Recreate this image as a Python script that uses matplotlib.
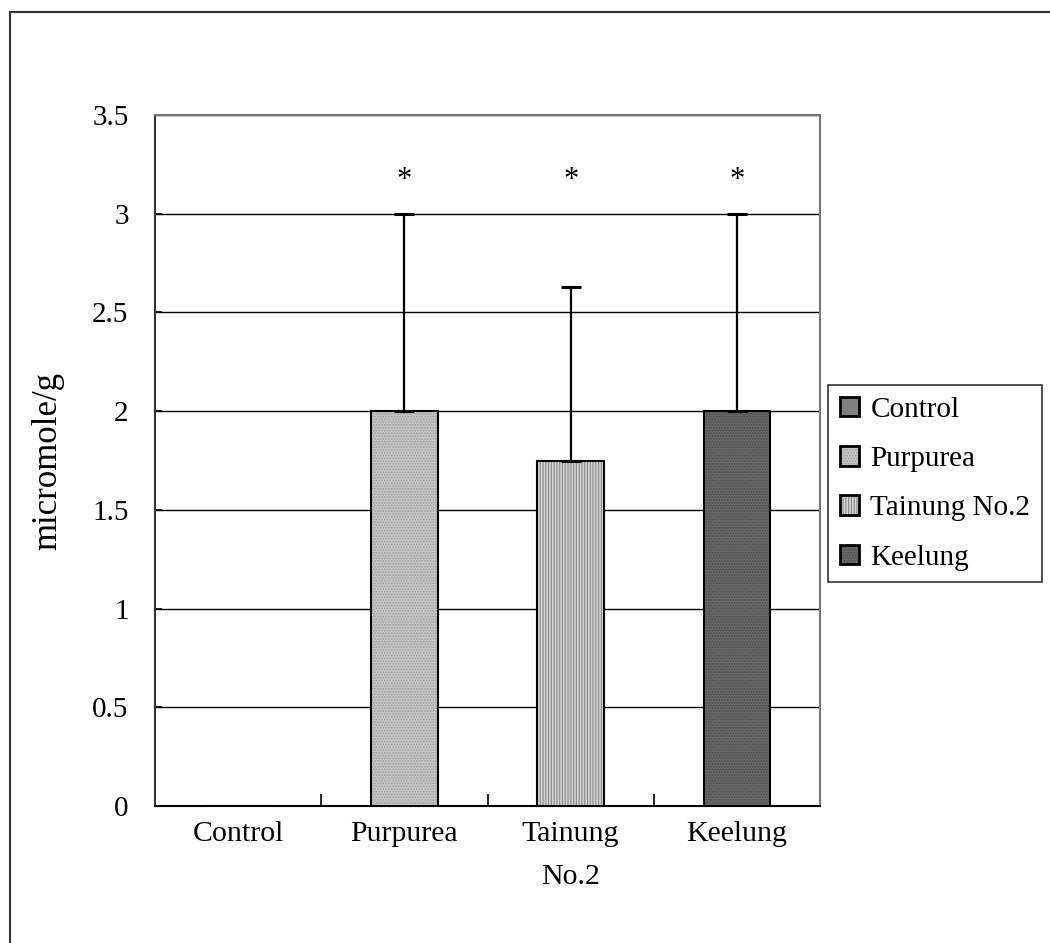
import numpy as np
import matplotlib.pyplot as plt
from matplotlib.lines import Line2D

plt.rcParams["font.family"] = ["Liberation Serif", "DejaVu Serif"]
plt.rcParams["hatch.linewidth"] = 0.8

groups = ["Control", "Purpurea", "Tainung\nNo.2", "Keelung"]
legend_names = ["Control", "Purpurea", "Tainung No.2", "Keelung"]
means = [0.0, 2.0, 1.75, 2.0]
errors = [0.0, 1.0, 0.88, 1.0]
significant = [False, True, True, True]

face = ["#808080", "#c4c4c4", "#d4d4d4", "#666666"]
hatch_col = ["#606060", "#a0a0a0", "#8a8a8a", "#505050"]
hatches = ["", "......", "||||||", "......"]

fig = plt.figure(figsize=(10.5, 9.43), dpi=100)
ax = fig.add_axes([0.1476, 0.1453, 0.6334, 0.7327])

x = np.arange(len(groups))
bars = []
for i in range(len(groups)):
    b = ax.bar(x[i], means[i], width=0.4, color=face[i], edgecolor="black",
               linewidth=1.5, hatch=hatches[i], zorder=3)
    b[0]._hatch_color = plt.matplotlib.colors.to_rgba(hatch_col[i])
    bars.append(b[0])
    if errors[i] > 0:
        ax.errorbar(x[i], means[i], yerr=[[0], [errors[i]]], fmt="none",
                    ecolor="black", elinewidth=1.6, capsize=7, capthick=2.2,
                    zorder=4)
    if significant[i]:
        ax.text(x[i], 3.17, "*", ha="center", va="center", fontsize=22)

ax.set_xlim(-0.5, 3.5)
ax.set_ylim(0, 3.5)
ax.set_yticks(np.arange(0, 3.51, 0.5))
ax.set_yticklabels(["0", "0.5", "1", "1.5", "2", "2.5", "3", "3.5"])
ax.yaxis.grid(True, color="black", linewidth=1.0, zorder=0)
ax.set_axisbelow(True)

ax.set_xticks(x)
ax.set_xticklabels(groups, fontsize=21.5, linespacing=1.85)
ax.tick_params(axis="x", which="major", length=0, pad=11)
ax.set_xticks([0.5, 1.5, 2.5], minor=True)
ax.tick_params(axis="x", which="minor", direction="in", length=9, width=1.2)
ax.tick_params(axis="y", labelsize=21, direction="in", length=5, width=1.2,
               pad=19)

ax.spines["left"].set_color("#333333")
ax.spines["bottom"].set_color("black")
ax.spines["top"].set_color("#777777")
ax.spines["right"].set_color("#777777")
for s in ax.spines.values():
    s.set_linewidth(1.5)

ax.set_ylabel("micromole/g", fontsize=25, labelpad=20)

leg = ax.legend(bars, legend_names, loc="upper left",
                bbox_to_anchor=(0.7886, 0.5917), bbox_transform=fig.transFigure,
                fontsize=21, frameon=True, fancybox=False, edgecolor="black",
                handlelength=0.65, handleheight=0.65, handletextpad=0.4,
                labelspacing=0.8, borderpad=0.4, borderaxespad=0)
leg.get_frame().set_linewidth(1.2)
for h in leg.legend_handles:
    h.set_linewidth(2)

# outer frame edges (top and left)
fig.add_artist(Line2D([10 / 1050, 10 / 1050], [0, 1 - 12 / 943],
                      transform=fig.transFigure, color="#333333", linewidth=1.5))
fig.add_artist(Line2D([10 / 1050, 1], [1 - 12 / 943, 1 - 12 / 943],
                      transform=fig.transFigure, color="#333333", linewidth=1.5))

fig.savefig("out.png", dpi=100)
